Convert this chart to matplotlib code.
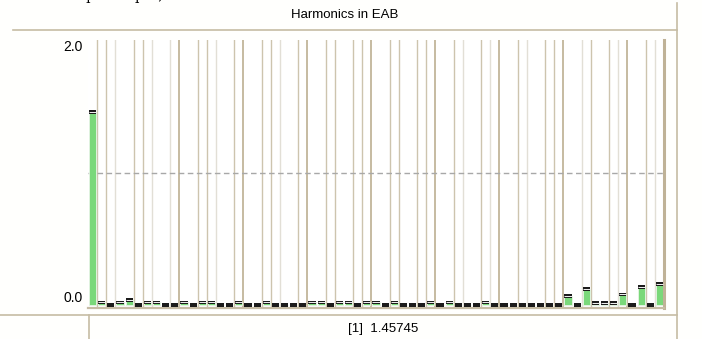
import numpy as np
import matplotlib.pyplot as plt
from matplotlib.lines import Line2D

plt.rcParams['font.family'] = ['Liberation Sans', 'DejaVu Sans']

# harmonic amplitudes, index 0 = fundamental
harmonics = [1.457, 0.02, 0.0, 0.02, 0.04, 0.0, 0.02, 0.02, 0.0, 0.0,
             0.02, 0.0, 0.02, 0.02, 0.0, 0.0, 0.02, 0.0, 0.0, 0.02,
             0.0, 0.0, 0.0, 0.0, 0.02, 0.02, 0.0, 0.02, 0.02, 0.0,
             0.02, 0.02, 0.0, 0.02, 0.0, 0.0, 0.0, 0.02, 0.0, 0.02,
             0.0, 0.0, 0.0, 0.02, 0.0, 0.0, 0.0, 0.0, 0.0, 0.0,
             0.0, 0.0, 0.068, 0.0, 0.12, 0.015, 0.015, 0.015, 0.08, 0.0,
             0.137, 0.0, 0.158]
ref_level = 1.0
ytick_vals = [0.0, 2.0]
ytick_labels = ['0.0', '2.0']
title = 'Harmonics in EAB'
footer = '[1]  1.45745'

# boundaries between bars that carry a separator line
sep_bounds = [1, 2, 3, 5, 6, 7, 9, 10, 12, 13, 14, 16, 17, 19, 20, 21, 23, 24,
              26, 27, 29, 30, 31, 33, 34, 36, 37, 38, 40, 41, 43, 44, 45, 47,
              48, 50, 51, 52, 54, 55, 57, 58, 59, 61, 62]
light_bounds = [3, 7, 9, 14, 21, 41, 44, 48, 54, 58, 62]

TAN = '#c6bca4'
GREEN = '#7ad87a'
W, H = 702, 339

fig = plt.figure(figsize=(W / 100, H / 100), dpi=100)
fig.patch.set_facecolor('#fffffd')
ax = fig.add_axes([88 / W, (H - 308) / H, (664 - 88) / W, (308 - 40) / H])
ax.set_facecolor('white')

x = np.arange(len(harmonics))
v = np.array(harmonics)
ax.set_xlim(-0.5, len(harmonics) - 0.5)
ax.set_ylim(-0.0226, 2.0)

# separator lines
for k in sep_bounds:
    if k % 7 == 3 and k > 3:
        ax.axvline(k - 0.5, color='#c4b89d', lw=1.35, zorder=1)
    elif k in light_bounds:
        ax.axvline(k - 0.5, color='#e2dfd6', lw=1.0, zorder=1)
    else:
        ax.axvline(k - 0.5, color='#cdc4ae', lw=1.0, zorder=1)

ax.axhline(ref_level, color='#a8a8a8', lw=1.0, ls=(0, (4, 2.5)), zorder=1)

bw = 0.78
ax.bar(x, v, width=bw, color=GREEN, edgecolor='#e6f4e4', linewidth=0.6, zorder=2)
cap = 0.028
ax.bar(x, cap, bottom=v - cap / 2, width=bw, color='#1c1c1c', linewidth=0, zorder=3)
nz = v > 0.005
ax.hlines(v[nz], x[nz] - bw / 2, x[nz] + bw / 2, color='#f4f4f4', lw=0.7, zorder=4)

ax.set_yticks(ytick_vals)
ax.set_yticklabels(ytick_labels, fontsize=10)
ax.tick_params(axis='y', length=0, pad=4)
ax.get_yticklabels()[0].set_va('bottom')
ax.get_yticklabels()[1].set_va('top')
ax.set_xticks([])
for s in ['top', 'left']:
    ax.spines[s].set_visible(False)
ax.spines['bottom'].set_color(TAN)
ax.spines['bottom'].set_linewidth(1.6)
ax.spines['right'].set_color('#bfb297')
ax.spines['right'].set_linewidth(2.2)


def fline(x0, y0, x1, y1):
    fig.add_artist(Line2D([x0 / W, x1 / W], [1 - y0 / H, 1 - y1 / H],
                          transform=fig.transFigure, color=TAN, lw=1.2))


fline(13, 30, 677, 30)
fline(677, 3, 677, 339)
fline(0, 315, 677, 315)
fline(89, 315, 89, 339)

fig.text(345 / W, 1 - 15 / H, title, ha='center', va='center', fontsize=9.5)
fig.text(383 / W, 1 - 329 / H, footer, ha='center', va='center', fontsize=9.5)
fig.text(55 / W, 1 + 4 / H, 'Sample output,', ha='left', va='center', fontsize=10,
         family='DejaVu Serif')

fig.savefig('out.png', dpi=100, facecolor=fig.get_facecolor())
